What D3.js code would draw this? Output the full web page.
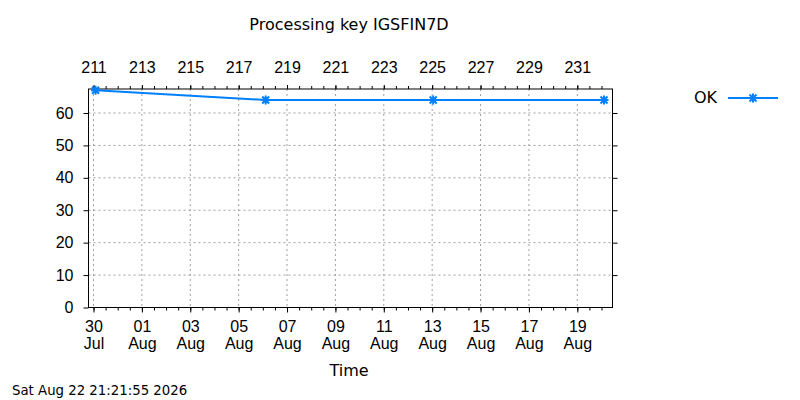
<!doctype html>
<html>
<head>
<meta charset="utf-8">
<script src="https://cdnjs.cloudflare.com/ajax/libs/d3/7.8.5/d3.min.js"></script>
<style>
  body { margin: 0; background: #fff; }
  svg { font-family: "DejaVu Sans", sans-serif; }
  .grid line { stroke: #a0a0a0; stroke-width: 1; stroke-dasharray: 2,3; }
  .axis path { display: none; }
  .axis line { stroke: #000; }
  .axis text { font-size: 16px; fill: #000; }
</style>
</head>
<body>
<svg id="chart" width="800" height="400"></svg>
<script>
// data: processing key IGSFIN7D, status OK
var times = ["2026-07-30T02:00Z", "2026-08-06T02:50Z", "2026-08-13T01:00Z", "2026-08-20T02:30Z"];
var okValues = [67, 64, 64, 64];

var dateTicks = ["2026-07-30", "2026-08-01", "2026-08-03", "2026-08-05", "2026-08-07",
                 "2026-08-09", "2026-08-11", "2026-08-13", "2026-08-15", "2026-08-17", "2026-08-19"];
var dayTicks = [211, 213, 215, 217, 219, 221, 223, 225, 227, 229, 231];
var yTicks = [0, 10, 20, 30, 40, 50, 60];

var margin = {left: 88.5, right: 612.5, top: 89, bottom: 307.5};
var svg = d3.select("#chart");
var color = "#0080ff";

var xDomain = [new Date("2026-07-29T19:02Z"), new Date("2026-08-20T10:55Z")];
var x = d3.scaleUtc().domain(xDomain).range([margin.left, margin.right]);
var y = d3.scaleLinear().domain([0, 67.4]).range([margin.bottom, margin.top]);

// top axis: day of year (Jul 30 = 211)
var t0 = new Date("2026-07-30T00:00Z");
var toDoy = function(d) { return 211 + (d - t0) / 864e5; };
var xDoy = d3.scaleLinear().domain(xDomain.map(toDoy)).range([margin.left, margin.right]);

var minorDates = d3.utcHour.every(12).range(xDomain[0], xDomain[1]);

// grid
svg.append("g").attr("class", "grid")
  .selectAll("line.v").data(dateTicks).enter().append("line")
    .attr("x1", d => x(new Date(d))).attr("x2", d => x(new Date(d)))
    .attr("y1", margin.top).attr("y2", margin.bottom);
svg.append("g").attr("class", "grid")
  .selectAll("line.h").data(yTicks.slice(1)).enter().append("line")
    .attr("x1", margin.left).attr("x2", margin.right)
    .attr("y1", d => y(d)).attr("y2", d => y(d));

// minor ticks
svg.append("g").attr("class", "axis")
  .attr("transform", "translate(0," + margin.bottom + ")")
  .call(d3.axisBottom(x).tickValues(minorDates).tickSize(3).tickFormat(""));
svg.append("g").attr("class", "axis")
  .attr("transform", "translate(0," + margin.top + ")")
  .call(d3.axisTop(x).tickValues(minorDates).tickSize(3).tickFormat(""));

// bottom axis
var fmtDay = d3.utcFormat("%d"), fmtMon = d3.utcFormat("%b");
var gx = svg.append("g").attr("class", "axis")
  .attr("transform", "translate(0," + margin.bottom + ")")
  .call(d3.axisBottom(x).tickValues(dateTicks.map(d => new Date(d))).tickSize(5).tickFormat(""));
gx.selectAll(".tick text").each(function(d) {
  var t = d3.select(this).attr("y", 13);
  t.append("tspan").attr("x", 0).attr("dy", "0.71em").text(fmtDay(d));
  t.append("tspan").attr("x", 0).attr("dy", "1.05em").text(fmtMon(d));
});

// top axis
svg.append("g").attr("class", "axis")
  .attr("transform", "translate(0," + margin.top + ")")
  .call(d3.axisTop(xDoy).tickValues(dayTicks).tickSize(4).tickPadding(12).tickFormat(d3.format("d")));

// left / right axis
svg.append("g").attr("class", "axis")
  .attr("transform", "translate(" + margin.left + ",0)")
  .call(d3.axisLeft(y).tickValues(yTicks).tickSize(5).tickPadding(10));
svg.append("g").attr("class", "axis")
  .attr("transform", "translate(" + margin.right + ",0)")
  .call(d3.axisRight(y).tickValues(yTicks.slice(1)).tickSize(5).tickFormat(""));

// border
svg.append("rect")
  .attr("x", margin.left).attr("y", margin.top)
  .attr("width", margin.right - margin.left).attr("height", margin.bottom - margin.top)
  .attr("fill", "none").attr("stroke", "#000").attr("stroke-width", 1);

// series
var data = times.map((t, i) => ({t: new Date(t), v: okValues[i]}));
var line = d3.line().x(d => x(d.t)).y(d => y(d.v));
svg.append("path").attr("d", line(data))
  .attr("fill", "none").attr("stroke", color).attr("stroke-width", 2);

var star = "M-4.5,0H4.5M0,-4.5V4.5M-3.5,-3.5L3.5,3.5M-3.5,3.5L3.5,-3.5";
svg.selectAll("path.pt").data(data).enter().append("path")
  .attr("class", "pt")
  .attr("d", star)
  .attr("transform", d => "translate(" + x(d.t) + "," + y(d.v) + ")")
  .attr("fill", "none").attr("stroke", color).attr("stroke-width", 2);

// legend
svg.append("text").attr("x", 717).attr("y", 97).attr("dy", "0.35em")
  .attr("text-anchor", "end").attr("font-size", 16).text("OK");
svg.append("line").attr("x1", 728).attr("x2", 778).attr("y1", 98).attr("y2", 98)
  .attr("stroke", color).attr("stroke-width", 2);
svg.append("path").attr("d", star).attr("transform", "translate(753,98)")
  .attr("fill", "none").attr("stroke", color).attr("stroke-width", 2);

// title, label, timestamp
svg.append("text").attr("x", 349).attr("y", 24).attr("dy", "0.35em")
  .attr("text-anchor", "middle").attr("font-size", 16).text("Processing key IGSFIN7D");
svg.append("text").attr("x", 349).attr("y", 370).attr("dy", "0.35em")
  .attr("text-anchor", "middle").attr("font-size", 16).text("Time");
svg.append("text").attr("x", 12).attr("y", 390).attr("dy", "0.35em")
  .attr("font-size", 13.3).text("Sat Aug 22 21:21:55 2026");
</script>
</body>
</html>
